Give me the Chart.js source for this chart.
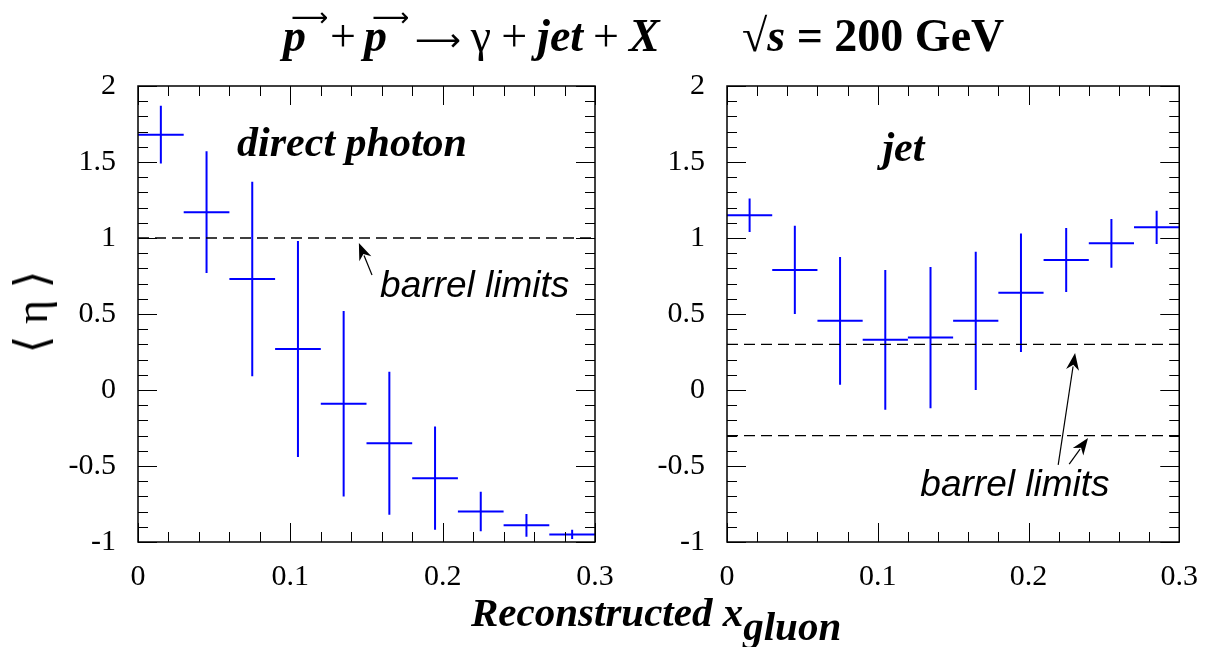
<!DOCTYPE html>
<html>
<head>
<meta charset="utf-8">
<script src="https://cdn.jsdelivr.net/npm/chart.js@4.4.1/dist/chart.umd.min.js"></script>
<style>
  html, body { margin: 0; padding: 0; background: #fff; }
  #wrap { position: relative; width: 1215px; height: 647px; overflow: hidden; }
  #wrap canvas { position: absolute; left: 0; top: 0; }
  .serif { font-family: "Liberation Serif", "DejaVu Serif", serif; color: #000; position: absolute; white-space: nowrap; }
  .title { top: 4px; font-size: 46px; font-weight: bold; line-height: 64px; }
  .title > span { display: inline-block; }
  .vec { position: relative; font-style: italic; }
  .vec::before { content: "\27F6"; position: absolute; left: 8px; top: -19px; font-family: "DejaVu Sans", sans-serif; font-weight: normal; font-style: normal; font-size: 26px; }
  .thin { font-weight: normal; }
  .arr { font-family: "DejaVu Sans", sans-serif; font-weight: normal; font-size: 32px; }
  #ytitle { left: 32px; top: 312px; font-size: 46px; transform: translate(-50%, -50%) rotate(-90deg); line-height: 1; }
  #xtitle { left: 471px; top: 590px; font-size: 41px; font-weight: bold; font-style: italic; line-height: 44px; }
  #xtitle sub { font-size: 41px; vertical-align: -14px; line-height: 0; }
</style>
</head>
<body>
<div id="wrap">
  <canvas id="left" width="1215" height="647"></canvas>
  <canvas id="right" width="1215" height="647"></canvas>
  <div class="serif title" style="left:283px;"><span class="vec">p</span><span class="thin" style="margin-left:24px">+</span><span class="vec" style="margin-left:8px">p</span><span class="arr" style="margin-left:28px">&#10230;</span><span class="thin" style="margin-left:10px">&#947;</span><span class="thin" style="margin-left:10px">+</span><span style="margin-left:10px"><i>jet</i></span><span class="thin" style="margin-left:10px">+</span><span style="margin-left:10px"><i>X</i></span></div>
  <div class="serif title" style="left:742px;"><span class="thin">&#8730;</span><i>s</i> = 200 GeV</div>
  <div class="serif" id="ytitle">&#10216; &#951; &#10217;</div>
  <div class="serif" id="xtitle">Reconstructed x<sub>gluon</sub></div>
</div>
<script>
// ---------- data ----------
const binCenters = [0.015, 0.045, 0.075, 0.105, 0.135, 0.165, 0.195, 0.225, 0.255, 0.285];
const binHalfWidth = 0.015;

// <eta> of the direct photon
const photonEta = [1.68, 1.17, 0.73, 0.27, -0.09, -0.35, -0.58, -0.80, -0.89, -0.95];
const photonErr = [0.19, 0.40, 0.64, 0.71, 0.61, 0.47, 0.34, 0.13, 0.075, 0.03];

// <eta> of the jet
const jetEta = [1.15, 0.79, 0.455, 0.33, 0.345, 0.455, 0.64, 0.855, 0.965, 1.07];
const jetErr = [0.11, 0.29, 0.42, 0.46, 0.465, 0.455, 0.39, 0.21, 0.16, 0.11];

// barrel acceptance limits
const photonLimits = [1.0];
const jetLimits = [0.3, -0.3];

const xTicks = [0, 0.1, 0.2, 0.3];
const yTicks = [-1, -0.5, 0, 0.5, 1, 1.5, 2];

const BLUE = '#0000ff';
const SERIF = '"Liberation Serif", "DejaVu Serif", serif';
const SANS = '"Liberation Sans", "DejaVu Sans", sans-serif';

// cross-shaped error bars: horizontal bin width + vertical error, gaps between bins
function hBars(vals) {
    const out = [];
    binCenters.forEach((c, i) => {
        out.push({ x: c - binHalfWidth, y: vals[i] }, { x: c + binHalfWidth, y: vals[i] }, { x: c, y: null });
    });
    return out;
}
function vBars(vals, errs) {
    const out = [];
    binCenters.forEach((c, i) => {
        out.push({ x: c, y: vals[i] - errs[i] }, { x: c, y: vals[i] + errs[i] }, { x: c, y: null });
    });
    return out;
}
function limitSets(limits) {
    return limits.map(v => ({
        data: [{ x: xTicks[0], y: v }, { x: xTicks[xTicks.length - 1], y: v }],
        borderColor: '#000', borderWidth: 1.4, borderDash: [11, 6],
        showLine: true, pointRadius: 0
    }));
}

// frame + ROOT-style inward ticks on all four sides
const frameTicks = {
    id: 'frameTicks',
    afterDatasetsDraw(chart) {
        const { ctx, chartArea: a, scales: { x, y } } = chart;
        ctx.save();
        ctx.strokeStyle = '#000';
        ctx.lineWidth = 1;
        ctx.beginPath();
        for (let v = -1; v <= 2.0001; v += 0.1) {
            const py = Math.round(y.getPixelForValue(v)) + 0.5;
            const major = Math.abs(v * 2 - Math.round(v * 2)) < 1e-6;
            const len = major ? 19 : 10;
            ctx.moveTo(a.left, py); ctx.lineTo(a.left + len, py);
            ctx.moveTo(a.right, py); ctx.lineTo(a.right - len, py);
        }
        for (let v = 0; v <= 0.3001; v += 0.02) {
            const px = Math.round(x.getPixelForValue(v)) + 0.5;
            const major = Math.abs(v * 10 - Math.round(v * 10)) < 1e-6;
            const len = major ? 19 : 10;
            ctx.moveTo(px, a.bottom); ctx.lineTo(px, a.bottom - len);
            ctx.moveTo(px, a.top); ctx.lineTo(px, a.top + len);
        }
        ctx.stroke();
        ctx.lineWidth = 1.5;
        ctx.strokeRect(a.left, a.top, a.right - a.left, a.bottom - a.top);
        ctx.restore();
    }
};

// labels and arrows placed in data coordinates
const notes = {
    id: 'notes',
    afterDatasetsDraw(chart, args, opts) {
        const { ctx, scales: { x, y } } = chart;
        ctx.save();
        (opts.texts || []).forEach(t => {
            ctx.font = t.font;
            ctx.fillStyle = '#000';
            ctx.textAlign = 'center';
            ctx.textBaseline = 'middle';
            ctx.fillText(t.text, x.getPixelForValue(t.x), y.getPixelForValue(t.y));
        });
        (opts.arrows || []).forEach(ar => {
            const x0 = x.getPixelForValue(ar.from[0]), y0 = y.getPixelForValue(ar.from[1]);
            const x1 = x.getPixelForValue(ar.to[0]), y1 = y.getPixelForValue(ar.to[1]);
            const ang = Math.atan2(y1 - y0, x1 - x0);
            const hl = 17, hw = 6.5;
            ctx.strokeStyle = '#000';
            ctx.lineWidth = 1.2;
            ctx.beginPath();
            ctx.moveTo(x0, y0);
            ctx.lineTo(x1 - Math.cos(ang) * hl * 0.8, y1 - Math.sin(ang) * hl * 0.8);
            ctx.stroke();
            ctx.fillStyle = '#000';
            ctx.beginPath();
            ctx.moveTo(x1, y1);
            ctx.lineTo(x1 - Math.cos(ang) * hl - Math.sin(ang) * hw, y1 - Math.sin(ang) * hl + Math.cos(ang) * hw);
            ctx.lineTo(x1 - Math.cos(ang) * hl * 0.7, y1 - Math.sin(ang) * hl * 0.7);
            ctx.lineTo(x1 - Math.cos(ang) * hl + Math.sin(ang) * hw, y1 - Math.sin(ang) * hl - Math.cos(ang) * hw);
            ctx.closePath();
            ctx.fill();
        });
        ctx.restore();
    }
};

function fmt(v) { return String(parseFloat(v.toFixed(2))); }

function panel(canvasId, vals, errs, limits, yAxisWidth, rightPad, texts, arrows) {
    return new Chart(document.getElementById(canvasId), {
        type: 'scatter',
        data: {
            datasets: [
                ...limitSets(limits),
                { data: hBars(vals), borderColor: BLUE, borderWidth: 2, showLine: true, pointRadius: 0, spanGaps: false },
                { data: vBars(vals, errs), borderColor: BLUE, borderWidth: 2, showLine: true, pointRadius: 0, spanGaps: false }
            ]
        },
        options: {
            responsive: false,
            animation: false,
            events: [],
            layout: { padding: { top: 86, right: rightPad, left: 0, bottom: 0 } },
            scales: {
                x: {
                    type: 'linear', min: 0, max: 0.3,
                    afterBuildTicks: s => { s.ticks = xTicks.map(v => ({ value: v })); },
                    afterFit: s => { s.height = 105; },
                    grid: { display: false, drawTicks: false },
                    border: { display: false },
                    ticks: { color: '#000', font: { family: SERIF, size: 30 }, padding: 17, maxRotation: 0, callback: fmt }
                },
                y: {
                    type: 'linear', min: -1, max: 2,
                    afterBuildTicks: s => { s.ticks = yTicks.map(v => ({ value: v })); },
                    afterFit: s => { s.width = yAxisWidth; },
                    grid: { display: false, drawTicks: false },
                    border: { display: false },
                    ticks: { color: '#000', font: { family: SERIF, size: 30 }, padding: 22, callback: fmt }
                }
            },
            plugins: {
                legend: { display: false },
                tooltip: { enabled: false },
                notes: { texts, arrows }
            }
        },
        plugins: [frameTicks, notes]
    });
}

panel('left', photonEta, photonErr, photonLimits, 138, 620,
    [
        { text: 'direct photon', x: 0.1405, y: 1.61, font: `italic bold 42px ${SERIF}` },
        { text: 'barrel limits', x: 0.221, y: 0.68, font: `italic 37px ${SANS}` }
    ],
    [
        { from: [0.1536, 0.757], to: [0.145, 0.967] }
    ]);

panel('right', jetEta, jetErr, jetLimits, 727, 32,
    [
        { text: 'jet', x: 0.117, y: 1.58, font: `italic bold 42px ${SERIF}` },
        { text: 'barrel limits', x: 0.191, y: -0.63, font: `italic 37px ${SANS}` }
    ],
    [
        { from: [0.2197, -0.493], to: [0.2309, 0.243] },
        { from: [0.227, -0.487], to: [0.2395, -0.316] }
    ]);
</script>
</body>
</html>
